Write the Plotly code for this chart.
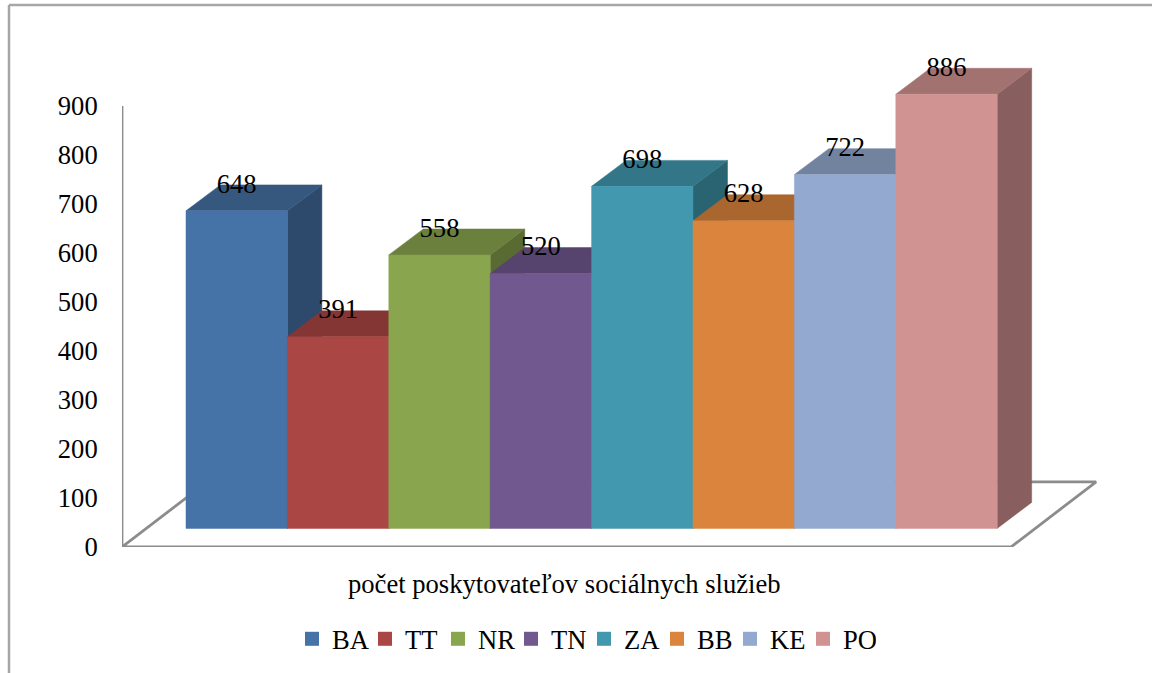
import plotly.graph_objects as go

# Data
categories = ["BA", "TT", "NR", "TN", "ZA", "BB", "KE", "PO"]
values = [648, 391, 558, 520, 698, 628, 722, 886]
front_colors = ["#4572A7", "#AA4643", "#89A54E", "#71588F", "#4198AF", "#DB843D", "#93A9CF", "#D19392"]
top_colors = ["#36587F", "#843634", "#6A803C", "#57446E", "#327687", "#AA662F", "#72839F", "#A27271"]
side_colors = ["#2D4A6C", "#6F2E2C", "#596B33", "#4A3A5D", "#2A6372", "#8E5628", "#5F6E86", "#885F5E"]
y_ticks = [0, 100, 200, 300, 400, 500, 600, 700, 800, 900]
axis_title = "počet poskytovateľov sociálnych služieb"

# Projection of the fake 3D box, in axis units
W, H = 1152, 673
ML, MR, MT, MB = 122, 52, 57, 126
PX_PER_BAR = 101.4
X0_PX = 186
BASE = 38        # front face starts here on the value axis
DX = 0.34        # depth shift, in bars
DY = 53          # depth shift, in value units
FLOOR_DX = 0.84
FLOOR_DY = 133
LABEL_DROP = 2
x_min = (ML - X0_PX) / PX_PER_BAR
x_max = (W - MR - X0_PX) / PX_PER_BAR
FONT = "Liberation Serif"
FS = 26.6
GREY = "#8C8C8C"

fig = go.Figure()


def poly(xs, ys, color):
    fig.add_trace(go.Scatter(
        x=xs, y=ys, mode="lines", fill="toself", fillcolor=color,
        line=dict(color=color, width=0.5), showlegend=False, hoverinfo="skip",
    ))


def line(xs, ys, color=GREY, width=2.8):
    fig.add_trace(go.Scatter(
        x=xs, y=ys, mode="lines", line=dict(color=color, width=width),
        showlegend=False, hoverinfo="skip",
    ))


# Floor and value axis line
front_right = x_min + 8.767
line([x_min, front_right], [-5, -5], "#E2E2E2", 2)
line([x_min, front_right, front_right + FLOOR_DX, x_min + FLOOR_DX, x_min],
     [0, 0, FLOOR_DY, FLOOR_DY, 0])
line([x_min, x_min], [0, 900])

# Boxes, painted left to right
for i, v in enumerate(values):
    top = BASE + v
    poly([i + 1, i + 1 + DX, i + 1 + DX, i + 1, i + 1],
         [BASE, BASE + DY, top + DY, top, BASE], side_colors[i])
    poly([i, i + DX, i + 1 + DX, i + 1, i],
         [top, top + DY, top + DY, top, top], top_colors[i])
    poly([i, i + 1, i + 1, i, i],
         [BASE, BASE, top, top, BASE], front_colors[i])

# Data labels
fig.add_trace(go.Scatter(
    x=[i + 0.5 for i in range(len(values))],
    y=[BASE + v + DY - LABEL_DROP for v in values],
    mode="text", text=[str(v) for v in values], textposition="middle center",
    textfont=dict(family=FONT, size=FS, color="#000000"),
    showlegend=False, hoverinfo="skip",
))

# Legend entries
for name, color in zip(categories, front_colors):
    fig.add_trace(go.Scatter(
        x=[None], y=[None], mode="markers", name=name,
        marker=dict(symbol="square", size=14, color=color),
    ))


def px(p):
    return (p - ML) / (W - ML - MR)


def py(p):
    return 1 - (p - MT) / (H - MT - MB)


border = dict(type="line", xref="paper", yref="paper", line=dict(color="#A6A6A6", width=2.5))
shapes = [
    dict(border, x0=px(9), x1=px(9), y0=py(5), y1=py(680)),
    dict(border, x0=px(9), x1=px(1160), y0=py(5), y1=py(5)),
]

fig.update_layout(
    width=W, height=H, autosize=False,
    margin=dict(l=ML, r=MR, t=MT, b=MB, pad=0, autoexpand=False),
    paper_bgcolor="#FFFFFF", plot_bgcolor="rgba(0,0,0,0)",
    font=dict(family=FONT, size=FS, color="#000000"),
    showlegend=True,
    legend=dict(
        orientation="h", x=px(292), xanchor="left", y=py(639), yanchor="middle",
        font=dict(family=FONT, size=FS), bgcolor="rgba(0,0,0,0)", traceorder="normal",
        entrywidth=28, entrywidthmode="pixels",
    ),
    xaxis=dict(range=[x_min, x_max], visible=False, fixedrange=True),
    yaxis=dict(
        range=[0, 1000], tickvals=y_ticks, ticktext=[str(t) for t in y_ticks],
        ticks="outside", ticklen=18, tickcolor="rgba(0,0,0,0)", showgrid=False,
        zeroline=False, showline=False, fixedrange=True,
        tickfont=dict(family=FONT, size=FS, color="#000000"),
    ),
    shapes=shapes,
    annotations=[dict(
        text=axis_title, xref="paper", yref="paper", x=px(564), y=py(584),
        xanchor="center", yanchor="middle", showarrow=False,
        font=dict(family=FONT, size=FS, color="#000000"),
    )],
)

fig.write_html("out.html", config={"displayModeBar": False},
               post_script="document.body.style.margin='0';document.body.style.overflow='hidden';")
